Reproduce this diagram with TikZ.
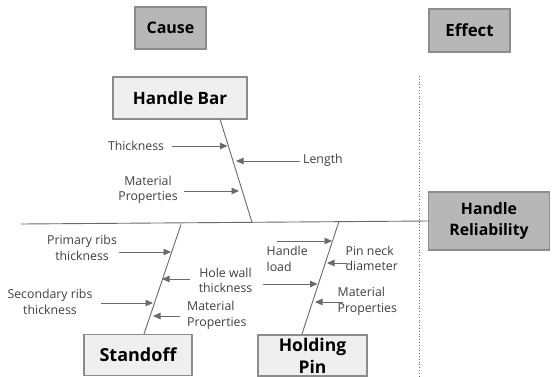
\documentclass[tikz,border=0pt]{standalone}
\usepackage{fontspec}
\setmainfont{Open Sans}
\usetikzlibrary{arrows.meta,calc}
\definecolor{darkbox}{HTML}{B7B7B7}
\definecolor{lightbox}{HTML}{EFEFEF}
\definecolor{boxline}{HTML}{8C8C8C}
\definecolor{lblcol}{HTML}{3F3F3F}
\definecolor{arrcol}{HTML}{6A6A6A}
\begin{document}
\begin{tikzpicture}[x=1pt,y=-1pt,
 boxbase/.style={draw=boxline, line width=1.1pt, inner sep=0pt, align=center,
   font=\fontsize{17}{22}\selectfont\bfseries},
 darkb/.style={boxbase, fill=darkbox},
 lightb/.style={boxbase, fill=lightbox},
 lbl/.style={text=lblcol, font=\fontsize{12.3}{15.5}\selectfont, inner sep=0pt, align=center},
 lbll/.style={lbl, align=left},
 bone/.style={draw=arrcol, line width=0.9pt},
 arr/.style={draw=arrcol, line width=0.9pt, -{Triangle[length=7.5pt,width=6.5pt]}}]
\useasboundingbox (0,0) rectangle (552,376);

% boxes
\node[darkb, minimum width=71pt, minimum height=42pt, font=\fontsize{16}{21}\selectfont\bfseries] (cause) at (170.5,28) {Cause};
\node[darkb, minimum width=81pt, minimum height=43pt, font=\fontsize{16.8}{21}\selectfont\bfseries] (effect) at (469.5,30.5) {Effect};
\node[lightb, minimum width=134pt, minimum height=42pt] (hbar) at (180,98) {Handle Bar};
\node[darkb, minimum width=121pt, minimum height=58pt, font=\fontsize{15.8}{21.5}\selectfont\bfseries] (rel) at (489,221) {Handle\\Reliability};
\node[lightb, minimum width=108pt, minimum height=41pt, font=\fontsize{18}{22}\selectfont\bfseries] (stand) at (138,355) {Standoff};
\node[lightb, minimum width=109pt, minimum height=41pt, font=\fontsize{17.5}{22}\selectfont\bfseries] (pin) at (312.5,355.5) {Holding\\Pin};

% dotted separator
\coordinate (dtop) at (419,76);
\coordinate (dbot) at (419,376);
\draw[draw=arrcol, dotted, line width=0.8pt] (dtop) -- (dbot);

% spine
\coordinate (spL) at (21,224);
\draw[bone] (spL) -- (rel.west);

% bones
\coordinate (hbT) at (220,119);
\coordinate (hbB) at (252,222.3);
\coordinate (soT) at (181,224.5);
\coordinate (soB) at (144,334);
\coordinate (hpT) at (339,221.2);
\coordinate (hpB) at (302,334);
\draw[bone] (hbT) -- (hbB);
\draw[bone] (soT) -- (soB);
\draw[bone] (hpT) -- (hpB);

% labels
\node[lbl] (thick) at (136,146) {Thickness};
\node[lbl, anchor=west] (len) at (303,160) {Length};
\node[lbl] (hbmat) at (148,190) {Material\\Properties};
\node[lbl] (prim) at (82,248) {Primary ribs\\thickness};
\node[lbl] (sec) at (50,302) {Secondary ribs\\thickness};
\node[lbl] (hole) at (225.5,280.5) {Hole wall\\thickness};
\node[lbll, anchor=west] (somat) at (187,315.5) {Material\\Properties};
\node[lbll, anchor=west] (load) at (266.5,259) {Handle\\load};
\node[lbll, anchor=west] (neck) at (345.5,258.5) {Pin neck\\diameter};
\node[lbll, anchor=west] (hpmat) at (337.5,301.5) {Material\\Properties};

% arrow end points
\coordinate (a1s) at (172,146);   \coordinate (a1e) at (227.5,146);
\coordinate (a2s) at (300,161);   \coordinate (a2e) at (236,161);
\coordinate (a3s) at (184,191);   \coordinate (a3e) at (239,191);
\coordinate (a4s) at (119,252);   \coordinate (a4e) at (171,252);
\coordinate (a5s) at (101,303);   \coordinate (a5e) at (153,303);
\coordinate (a6s) at (190,279);   \coordinate (a6e) at (162,279);
\coordinate (a7s) at (180,316);   \coordinate (a7e) at (153,316);
\coordinate (a8s) at (277,241);   \coordinate (a8e) at (332,241);
\coordinate (a9s) at (263,284);   \coordinate (a9e) at (317.5,284);
\coordinate (a10s) at (347,263);  \coordinate (a10e) at (327,263);
\coordinate (a11s) at (343,302);  \coordinate (a11e) at (315,302);

\draw[arr] (a1s) -- (a1e);
\draw[arr] (a2s) -- (a2e);
\draw[arr] (a3s) -- (a3e);
\draw[arr] (a4s) -- (a4e);
\draw[arr] (a5s) -- (a5e);
\draw[arr] (a6s) -- (a6e);
\draw[arr] (a7s) -- (a7e);
\draw[arr] (a8s) -- (a8e);
\draw[arr] (a9s) -- (a9e);
\draw[arr] (a10s) -- (a10e);
\draw[arr] (a11s) -- (a11e);
\end{tikzpicture}
\end{document}
